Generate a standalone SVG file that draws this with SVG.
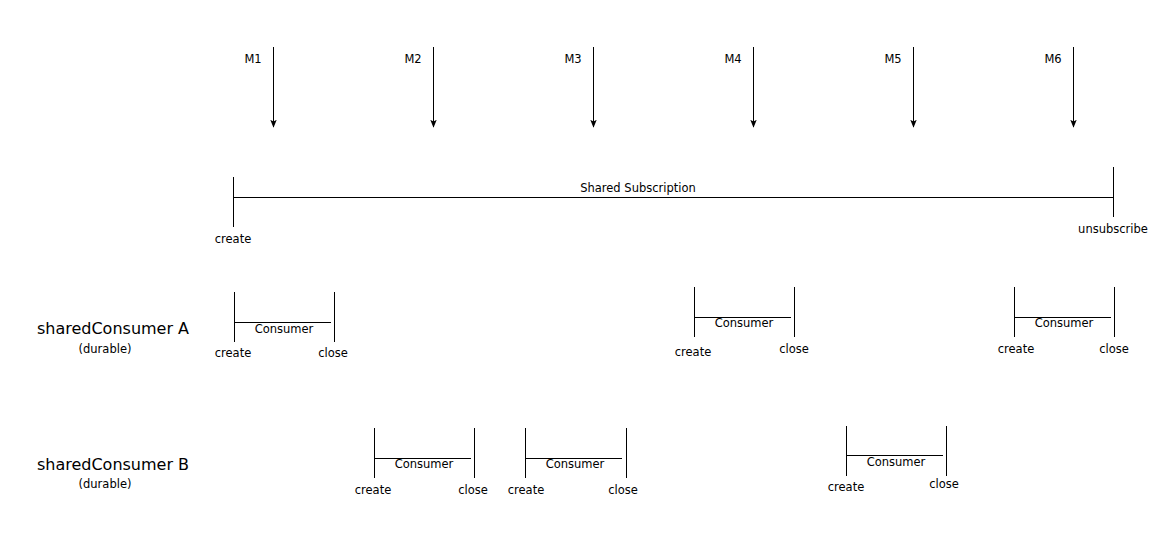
<svg xmlns="http://www.w3.org/2000/svg" width="1167" height="559" viewBox="0 0 1167 559">
<style>
text{font-family:"DejaVu Sans","Liberation Sans",sans-serif;font-size:11.5px;fill:#000;text-anchor:middle;dominant-baseline:central}
.big{font-size:16px}
line{stroke:#000;stroke-width:1}
</style>
<defs>
<marker id="ah" viewBox="0 0 10 10" refX="9" refY="5" markerWidth="8" markerHeight="8" markerUnits="userSpaceOnUse" orient="auto">
<path d="M0,1 L10,5 L0,9 L2,5 Z" fill="#000"/>
</marker>
</defs>
<rect width="1167" height="559" fill="#fff"/>
<g id="connectors">
<line x1="273.5" y1="47" x2="273.5" y2="127" marker-end="url(#ah)"/>
<line x1="433.5" y1="47" x2="433.5" y2="127" marker-end="url(#ah)"/>
<line x1="593.5" y1="47" x2="593.5" y2="127" marker-end="url(#ah)"/>
<line x1="753.5" y1="47" x2="753.5" y2="127" marker-end="url(#ah)"/>
<line x1="913.5" y1="47" x2="913.5" y2="127" marker-end="url(#ah)"/>
<line x1="1073.5" y1="47" x2="1073.5" y2="127" marker-end="url(#ah)"/>
</g>
<g id="messages">
<text x="253" y="59">M1</text>
<text x="413" y="59">M2</text>
<text x="573" y="59">M3</text>
<text x="733" y="59">M4</text>
<text x="893" y="59">M5</text>
<text x="1053" y="59">M6</text>
</g>
<g id="subscription">
<line x1="233.5" y1="177" x2="233.5" y2="227"/>
<line x1="233.5" y1="197.5" x2="1113.5" y2="197.5"/>
<line x1="1113.5" y1="167" x2="1113.5" y2="217"/>
<text x="638" y="188">Shared Subscription</text>
<text x="233" y="239">create</text>
<text x="1113" y="229">unsubscribe</text>
</g>
<g id="labelA">
<text class="big" x="113" y="328">sharedConsumer A</text>
<text x="105" y="349">(durable)</text>
</g>
<g id="labelB">
<text class="big" x="113" y="464">sharedConsumer B</text>
<text x="105" y="484">(durable)</text>
</g>
<g id="consumerA1">
<line x1="234.5" y1="292" x2="234.5" y2="342"/>
<line x1="334.5" y1="292" x2="334.5" y2="342"/>
<line x1="234.5" y1="322.5" x2="331" y2="322.5"/>
<text x="284" y="329">Consumer</text>
<text x="233" y="353">create</text>
<text x="333" y="353">close</text>
</g>
<g id="consumerA2">
<line x1="694.5" y1="287" x2="694.5" y2="337"/>
<line x1="794.5" y1="287" x2="794.5" y2="337"/>
<line x1="694.5" y1="317.5" x2="791" y2="317.5"/>
<text x="744" y="323">Consumer</text>
<text x="693" y="352">create</text>
<text x="794" y="349">close</text>
</g>
<g id="consumerA3">
<line x1="1014.5" y1="287" x2="1014.5" y2="337"/>
<line x1="1114.5" y1="287" x2="1114.5" y2="337"/>
<line x1="1014.5" y1="317.5" x2="1111" y2="317.5"/>
<text x="1064" y="323">Consumer</text>
<text x="1016" y="349">create</text>
<text x="1114" y="349">close</text>
</g>
<g id="consumerB1">
<line x1="374.5" y1="428" x2="374.5" y2="478"/>
<line x1="474.5" y1="428" x2="474.5" y2="478"/>
<line x1="374.5" y1="458.5" x2="471" y2="458.5"/>
<text x="424" y="464">Consumer</text>
<text x="373" y="490">create</text>
<text x="473" y="490">close</text>
</g>
<g id="consumerB2">
<line x1="525.5" y1="428" x2="525.5" y2="478"/>
<line x1="626.5" y1="428" x2="626.5" y2="478"/>
<line x1="525.5" y1="458.5" x2="622" y2="458.5"/>
<text x="575" y="464">Consumer</text>
<text x="526" y="490">create</text>
<text x="623" y="490">close</text>
</g>
<g id="consumerB3">
<line x1="846.5" y1="426" x2="846.5" y2="476"/>
<line x1="946.5" y1="426" x2="946.5" y2="476"/>
<line x1="846.5" y1="455.5" x2="943" y2="455.5"/>
<text x="896" y="462">Consumer</text>
<text x="846" y="487">create</text>
<text x="944" y="484">close</text>
</g>
</svg>
